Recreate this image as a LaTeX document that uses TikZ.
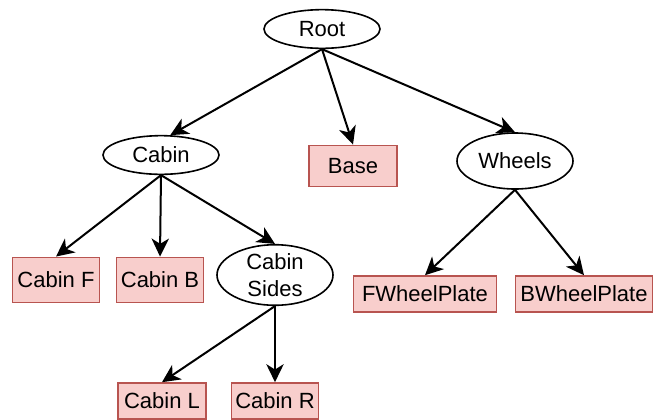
\documentclass[tikz,border=0pt]{standalone}
\usepackage{fontspec}
\setmainfont{Liberation Sans}
\usetikzlibrary{shapes.geometric,arrows.meta}
\definecolor{partfill}{HTML}{F8CECC}
\definecolor{partline}{HTML}{B85450}

\begin{document}
\begin{tikzpicture}[x=0.75pt, y=-0.75pt,
		every node/.style={font=\fontsize{16.5}{20}\selectfont, inner sep=0pt, align=center},
		group/.style={ellipse, draw=black, line width=1.2pt, fill=white, minimum width=87pt, minimum height=29pt},
		part/.style={rectangle, draw=partline, line width=1.2pt, fill=partfill, minimum height=27pt},
		link/.style={line width=1.5pt, -{Stealth[length=13.5pt, width=13pt, inset=4pt]}}]
			\useasboundingbox (0, 0) rectangle (658, 419);
			\node[group] (root) at (322, 29){Root};
			\node[group] (cabin) at (161, 155){Cabin};
			\node[part, minimum width=66pt, minimum height=31pt] (base) at (353, 166){Base};
			\node[group, minimum height=42pt] (wheels) at (515, 161){Wheels};
			\node[part, minimum width=65pt, minimum height=34pt] (cabinf) at (56, 280){Cabin F};
			\node[part, minimum width=65pt, minimum height=34pt] (cabinb) at (160, 280){Cabin B};
			\node[group, minimum height=42pt] (sides) at (275, 275){Cabin\\Sides};
			\node[part, minimum width=107pt] (fwheel) at (425, 294){FWheelPlate};
			\node[part, minimum width=103pt] (bwheel) at (584, 294){BWheelPlate};
			\node[part, minimum width=66pt] (cabinl) at (162, 401){Cabin L};
			\node[part, minimum width=65pt] (cabinr) at (275, 401){Cabin R};
			\draw[link] (root.south) -- (cabin.65);
			\draw[link] (root.south) -- (base.north);
			\draw[link] (root.south) -- (wheels.north);
			\draw[link] (cabin.south) -- (cabinf.north);
			\draw[link] (cabin.south) -- (cabinb.north);
			\draw[link] (cabin.south) -- (sides.north);
			\draw[link] (wheels.south) -- (fwheel.north);
			\draw[link] (wheels.south) -- (bwheel.north);
			\draw[link] (sides.south) -- (cabinl.north);
			\draw[link] (sides.south) -- (cabinr.north);
		\end{tikzpicture}
\end{document}
